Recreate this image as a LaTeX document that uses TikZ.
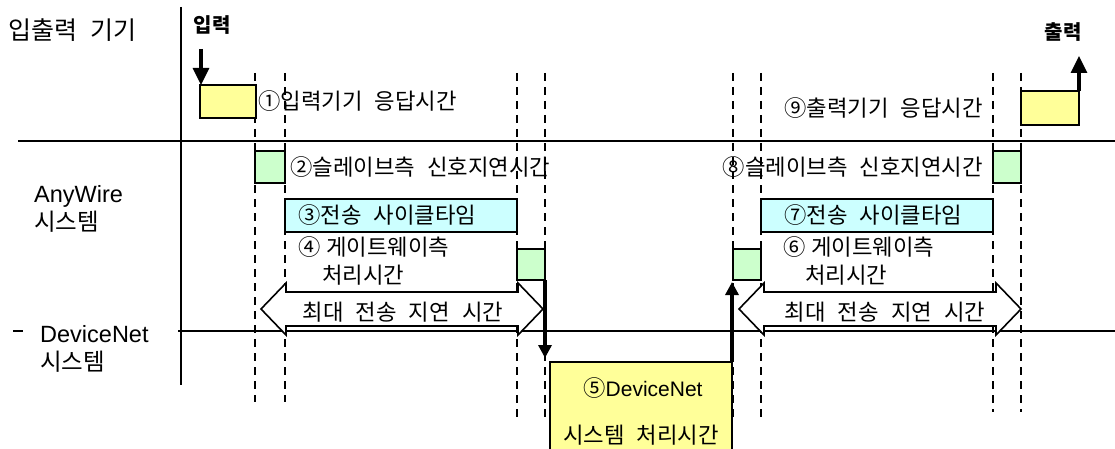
\documentclass[tikz,border=0pt]{standalone}
\usepackage{fontspec}
\setmainfont{Liberation Sans}
\newfontfamily\kr{Noto Sans CJK KR}[WordSpace=2.4]
\usetikzlibrary{arrows.meta,positioning}

\definecolor{devyellow}{HTML}{FFFF99}
\definecolor{slavegreen}{HTML}{CCFFCC}
\definecolor{cyclecyan}{HTML}{CCFFFF}

\newcommand{\spanarrow}[3]{%
  \draw[maxspan] (#1,#3) -- ++(25,-26) -- ++(0,9) -- ({#2-25},{#3-17})
    -- ++(0,-9) -- (#2,#3) -- ++(-25,26) -- ++(0,-9)
    -- ({#1+25},{#3+17}) -- ++(0,9) -- cycle;}

\tikzset{%
  guide/.style = {line width=1.2pt, dash pattern=on 8pt off 6pt},
  rule/.style = {line width=1.5pt},
  stage/.style = {draw, line width=1.6pt, inner sep=0pt, outer sep=0pt},
  devbox/.style = {stage, fill=devyellow},
  slavebox/.style = {stage, fill=slavegreen},
  cyclebox/.style = {stage, fill=cyclecyan},
  maxspan/.style = {line width=1.6pt, fill=white},
  note/.style = {inner sep=0pt, font=\kr\fontsize{22.3}{26}\selectfont},
  syslabel/.style = {inner sep=0pt, align=left, font=\fontsize{23.5}{28.5}\selectfont},
  iotag/.style = {inner sep=0pt, font=\kr\bfseries\fontsize{20}{24}\selectfont},
  signal/.style = {line width=3.2pt, -{Triangle[width=16pt,length=17pt]}},
  handoff/.style = {line width=3.2pt, -{Triangle[width=13pt,length=13pt]}}
}

\begin{document}
\begin{tikzpicture}[x=1pt, y=-1pt]
  \useasboundingbox (0,0) rectangle (1115,449);
  % timing guides
  \draw[guide] (255,73) -- (255,402);
  \draw[guide] (285,73) -- (285,402);
  \draw[guide] (517,73) -- (517,417);
  \draw[guide] (545,73) -- (545,417);
  \draw[guide] (733,73) -- (733,417);
  \draw[guide] (761,73) -- (761,417);
  \draw[guide] (993,73) -- (993,412);
  \draw[guide] (1021,73) -- (1021,412);
  % rows
  \draw[rule] (18,141) -- (1115,141);
  \draw[rule] (13,331) -- (1115,331);
  \node[syslabel, fill=white, text width=121pt, inner xsep=17pt, inner ysep=6pt,
    anchor=west] (dnlabel) at (23,349) {DeviceNet\\{\kr 시스템}};
  \draw[rule] (181,7) -- (181,385);
  \node[note, font=\kr\fontsize{25}{29}\selectfont, anchor=west] (iolabel) at (8,30) {입출력 기기};
  \node[syslabel, anchor=west] (awlabel) at (34,209) {AnyWire\\{\kr 시스템}};

  % input side
  \node[iotag] (inlabel) at (212,25) {입력};
  \node[devbox, anchor=north west, minimum width=56pt, minimum height=33pt] (inbox) at (200,85) {};
  \coordinate (indrop) at (201,49);
  \node[note, right=2pt of inbox] (inresp) {①입력기기 응답시간};
  \node[slavebox, anchor=north west, minimum width=30pt, minimum height=32pt] (sl2) at (255,151) {};
  \node[note, right=5pt of sl2] (slavein) {②슬레이브측 신호지연시간};
  \node[cyclebox, anchor=north west, minimum width=232pt, minimum height=33pt] (cyc3) at (285,199) {};
  \node[note, anchor=west] (cyclein) at ([xshift=13pt]cyc3.west) {③전송 사이클타임};
  \node[note, anchor=west] (gwin) at (298,247) {④\hspace{0.25em}게이트웨이측};
  \node[note, anchor=west] (gwinb) at (322,275) {처리시간};
  \node[slavebox, anchor=north west, minimum width=28pt, minimum height=31pt] (gw4) at (517,249) {};
  \spanarrow{261}{543}{309}
  \node[note] (maxin) at (403,312) {최대 전송 지연 시간};

  % DeviceNet side
  \node[devbox, line width=1.2pt, anchor=north west, minimum width=182pt, minimum height=110pt] (dnbox) at (550,362) {};
  \node[note] (dnproc) at (643,388) {⑤{\rmfamily\fontsize{21}{25}\selectfont DeviceNet}};
  \node[note] (dnprocb) at (641,435) {시스템 처리시간};

  % output side
  \node[slavebox, anchor=north west, minimum width=28pt, minimum height=31pt] (gw6) at (733,249) {};
  \node[note, anchor=west] (gwout) at (783,247) {⑥\hspace{0.25em}게이트웨이측};
  \node[note, anchor=west] (gwoutb) at (805,275) {처리시간};
  \node[cyclebox, anchor=north west, minimum width=232pt, minimum height=33pt] (cyc7) at (761,199) {};
  \node[note, anchor=west] (cycleout) at ([xshift=23pt]cyc7.west) {⑦전송 사이클타임};
  \node[slavebox, anchor=north west, minimum width=28pt, minimum height=32pt] (sl8) at (993,151) {};
  \node[note, left=10pt of sl8] (slaveout) {⑧슬레이브측 신호지연시간};
  \node[devbox, anchor=north west, minimum width=58pt, minimum height=34pt] (outbox) at (1021,91) {};
  \node[note, left=38pt of outbox] (outresp) {⑨출력기기 응답시간};
  \coordinate (outrise) at (1079,56);
  \node[iotag] (outlabel) at (1063,32) {출력};
  \spanarrow{739}{1021}{309}
  \node[note] (maxout) at (885,312) {최대 전송 지연 시간};

  % signal flow
  \draw[signal] (indrop) -- (indrop |- inbox.north);
  \draw[handoff, shorten >=4pt] (gw4.south east) -- (gw4.south east |- dnbox.north);
  \draw[handoff, shorten >=2pt] (dnbox.north east) -- (dnbox.north east |- gw6.south);
  \draw[signal] (outbox.north east) -- (outrise);
\end{tikzpicture}
\end{document}
